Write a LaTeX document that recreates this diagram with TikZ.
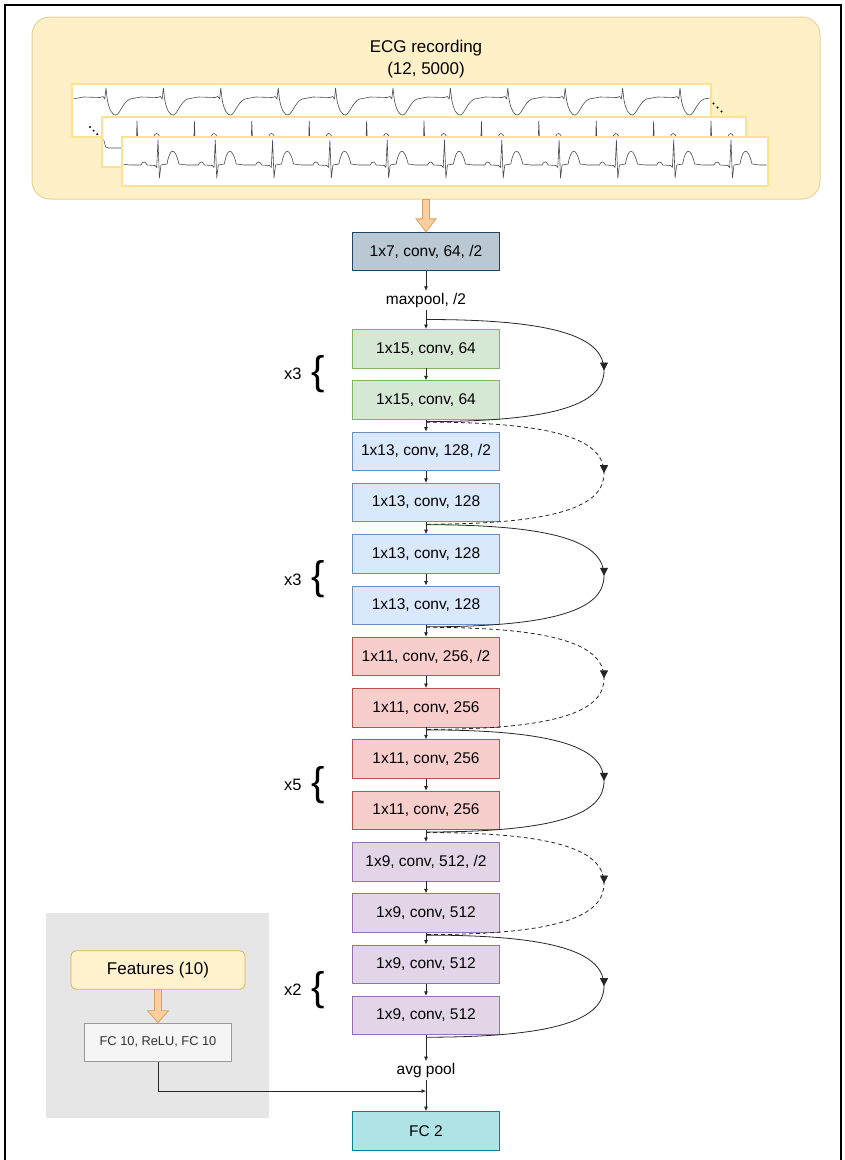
\documentclass[tikz,border=0pt]{standalone}
\usepackage{fontspec}
\setmainfont{Liberation Sans}
\usetikzlibrary{arrows.meta, positioning, calc, decorations.markings}

\definecolor{stemfill}{HTML}{BAC8D3}
\definecolor{stemdraw}{HTML}{23445D}
\definecolor{gfill}{HTML}{D5E8D4}
\definecolor{gdraw}{HTML}{82B366}
\definecolor{bfill}{HTML}{DAE8FC}
\definecolor{bdraw}{HTML}{6C8EBF}
\definecolor{rfill}{HTML}{F8CECC}
\definecolor{rdraw}{HTML}{B85450}
\definecolor{pfill}{HTML}{E1D5E7}
\definecolor{pdraw}{HTML}{9673A6}
\definecolor{fcfill}{HTML}{B0E3E6}
\definecolor{fcdraw}{HTML}{0E8088}
\definecolor{featfill}{HTML}{FFF2CC}
\definecolor{featdraw}{HTML}{D6B656}
\definecolor{tenfill}{HTML}{F5F5F5}
\definecolor{tendraw}{HTML}{999999}
\definecolor{tentext}{HTML}{333333}
\definecolor{panelfill}{HTML}{E6E6E6}
\definecolor{ecgfill}{HTML}{FFF0C8}
\definecolor{ecgdraw}{HTML}{E6D29C}
\definecolor{stripdraw}{HTML}{FFE28F}
\definecolor{arrowfill}{HTML}{FFCE9F}
\definecolor{arrowdraw}{HTML}{E0A060}

\begin{document}
\begin{tikzpicture}[x=1pt, y=-1pt,
    layer/.style={draw, line width=0.8pt, minimum width=147pt, minimum height=38.5pt, inner sep=0pt, font=\fontsize{15.5}{18}\selectfont},
    stem/.style={layer, fill=stemfill, draw=stemdraw},
    gblock/.style={layer, fill=gfill, draw=gdraw},
    bblock/.style={layer, fill=bfill, draw=bdraw},
    rblock/.style={layer, fill=rfill, draw=rdraw},
    pblock/.style={layer, fill=pfill, draw=pdraw},
    fcblock/.style={layer, fill=fcfill, draw=fcdraw},
    optext/.style={inner sep=2pt, font=\fontsize{15.5}{18}\selectfont},
    reps/.style={inner sep=0pt, font=\fontsize{16.5}{18}\selectfont},
    brace/.style={inner sep=0pt, font=\fontsize{40}{40}\selectfont},
    arrow/.style={-{Latex[length=4.5pt, width=4pt]}, line width=0.7pt, draw=black!85},
    skipline/.style={line width=0.8pt, draw=black!85, postaction={decorate},
        decoration={markings, mark=at position 0.5 with {\arrow{Triangle[length=8pt, width=8pt]}}}},
    dashskip/.style={dash pattern=on 4pt off 3pt},
    fatarrow/.style={fill=arrowfill, draw=arrowdraw, line width=0.8pt},
    strip/.style={fill=white, draw=stripdraw, line width=2.5pt},
    ecgwave/.style={line width=0.6pt, draw=black!70, line join=round},
]
    \useasboundingbox (0,0) rectangle (845,1160);
    \fill[white] (0,0) rectangle (845,1160);
    \draw[line width=1.6pt] (5,1175) -- (5,5) -- (841,5) -- (841,1175);

    % input recording
    \node[draw=ecgdraw, fill=ecgfill, line width=1pt, rounded corners=18pt, minimum width=788pt, minimum height=182pt] (ecg) at (426,108) {};
    \node[font=\fontsize{17}{22}\selectfont, align=center] (ecgtitle) at (426,59) {ECG recording\\(12, 5000)};

    % lead strips
    \draw[strip] (72,84) rectangle (711,137);
    \begin{scope}
        \clip (73.5,85.5) rectangle (709.5,135.5);
        \foreach \i in {-1,...,11}{
            \begin{scope}[shift={(106+57.4*\i,97)}]
                \draw[ecgwave] (-22.4,0) -- (-6,0.5) -- (-3,-0.5) -- (-1.2,2) -- (0,-9) -- (1.3,2.5)
                    .. controls (3,13) and (7,19) .. (10,18) .. controls (14,17) and (17,5) .. (24,2) -- (35,0);
            \end{scope}
        }
    \end{scope}
    \draw[strip] (102,117) rectangle (746,167);
    \begin{scope}
        \clip (103.5,118.5) rectangle (744.5,165.5);
        \foreach \i in {-1,...,11}{
            \begin{scope}[shift={(137+57.4*\i,148)}]
                \draw[ecgwave] (-28.7,0) -- (-2,0) -- (-0.8,2) -- (0,-27) -- (1.2,5) -- (2.5,0) -- (14,-1)
                    .. controls (17,-19) and (22,-19) .. (26,-1) -- (28.7,0);
            \end{scope}
        }
    \end{scope}
    \draw[strip] (122,137) rectangle (768,186);
    \begin{scope}
        \clip (123.5,138.5) rectangle (766.5,184.5);
        \foreach \i in {-1,...,11}{
            \begin{scope}[shift={(158+57.3*\i,165)}]
                \draw[ecgwave] (-28.7,0) -- (-17,0) .. controls (-15.5,-4) and (-12.5,-4) .. (-11,0) -- (-3,0.5)
                    -- (-1.3,2.5) -- (0,-25) -- (1.4,13) -- (3,0) -- (9,-1)
                    .. controls (12,-18) and (17,-18) .. (21,-1) -- (28.7,0);
            \end{scope}
        }
    \end{scope}
    \foreach \k in {0,1,2}{
        \fill (713.5+4*\k,103.5+4*\k) circle (1.1);
        \fill (90+3.6*\k,127+3.6*\k) circle (1.1);
    }

    % network
    \node[stem] (conv) at (426,251.5) {1x7, conv, 64, /2};
    \node[optext, below=19.7pt of conv] (maxpool) {maxpool, /2};
    \node[gblock, below=19.3pt of maxpool] (c1) {1x15, conv, 64};
    \node[gblock, below=12pt of c1] (c2) {1x15, conv, 64};
    \node[bblock, below=12pt of c2] (c3) {1x13, conv, 128, /2};
    \node[bblock, below=12pt of c3] (c4) {1x13, conv, 128};
    \node[bblock, below=12pt of c4] (c5) {1x13, conv, 128};
    \node[bblock, below=12pt of c5] (c6) {1x13, conv, 128};
    \node[rblock, below=12pt of c6] (c7) {1x11, conv, 256, /2};
    \node[rblock, below=12pt of c7] (c8) {1x11, conv, 256};
    \node[rblock, below=12pt of c8] (c9) {1x11, conv, 256};
    \node[rblock, below=12pt of c9] (c10) {1x11, conv, 256};
    \node[pblock, below=12pt of c10] (c11) {1x9, conv, 512, /2};
    \node[pblock, below=12pt of c11] (c12) {1x9, conv, 512};
    \node[pblock, below=12pt of c12] (c13) {1x9, conv, 512};
    \node[pblock, below=12pt of c13] (c14) {1x9, conv, 512};
    \node[optext, below=26pt of c14] (avgpool) {avg pool};
    \node[fcblock, below=31pt of avgpool] (fc2) {FC 2};

    \draw[fatarrow] ($(ecg.south)+(-3.5,0)$) -- ($(conv.north)+(-3.5,-13)$) -- ($(conv.north)+(-10,-13)$) -- (conv.north)
        -- ($(conv.north)+(10,-13)$) -- ($(conv.north)+(3.5,-13)$) -- ($(ecg.south)+(3.5,0)$) -- cycle;

    \foreach \a/\b in {conv/maxpool, maxpool/c1, c1/c2, c2/c3, c3/c4, c4/c5, c5/c6, c6/c7, c7/c8,
                       c8/c9, c9/c10, c10/c11, c11/c12, c12/c13, c13/c14, c14/avgpool, avgpool/fc2}
        \draw[arrow] (\a) -- (\b);

    % shortcut connections
    \foreach \a/\b/\sty in {c1/c2/solid, c3/c4/dashskip, c5/c6/solid, c7/c8/dashskip,
                            c9/c10/solid, c11/c12/dashskip, c13/c14/solid}{
        \coordinate (s) at ($(\a.north)+(0,-9.5)$);
        \coordinate (e) at ($(\b.south)+(0,2)$);
        \coordinate (m) at ($(s)!0.5!(e)+(178,0)$);
        \draw[skipline, \sty] (s) .. controls +(135,0) and +(0,-32) .. (m) .. controls +(0,32) and +(135,0) .. (e);
    }

    % repetitions
    \foreach \a/\b/\n in {c1/c2/3, c5/c6/3, c9/c10/5, c13/c14/2}{
        \node[brace] (br\a) at ($(\a.west)!0.5!(\b.west)+(-33.5,0)$) {\{};
        \node[reps, left=10pt of br\a] {x\n};
    }

    % extra features
    \node[fill=panelfill, minimum width=223pt, minimum height=205pt] (panel) at (157.5,1015.5) {};
    \node[draw=featdraw, fill=featfill, line width=0.8pt, rounded corners=5pt, minimum width=174pt, minimum height=38.5pt,
          font=\fontsize{17}{20}\selectfont] (features) at (158,970) {Features (10)};
    \node[draw=tendraw, fill=tenfill, line width=0.8pt, minimum width=147pt, minimum height=38.5pt, text=tentext,
          font=\fontsize{12.8}{15}\selectfont, below=33pt of features] (fcten) {FC 10, ReLU, FC 10};
    \draw[fatarrow] ($(features.south)+(-3.5,0)$) -- ($(fcten.north)+(-3.5,-12)$) -- ($(fcten.north)+(-10.5,-12)$) -- (fcten.north)
        -- ($(fcten.north)+(10.5,-12)$) -- ($(fcten.north)+(3.5,-12)$) -- ($(features.south)+(3.5,0)$) -- cycle;
    \coordinate (join) at ($(fc2.north)+(0,-20)$);
    \draw[arrow] (fcten.south) |- (join);
\end{tikzpicture}
\end{document}
